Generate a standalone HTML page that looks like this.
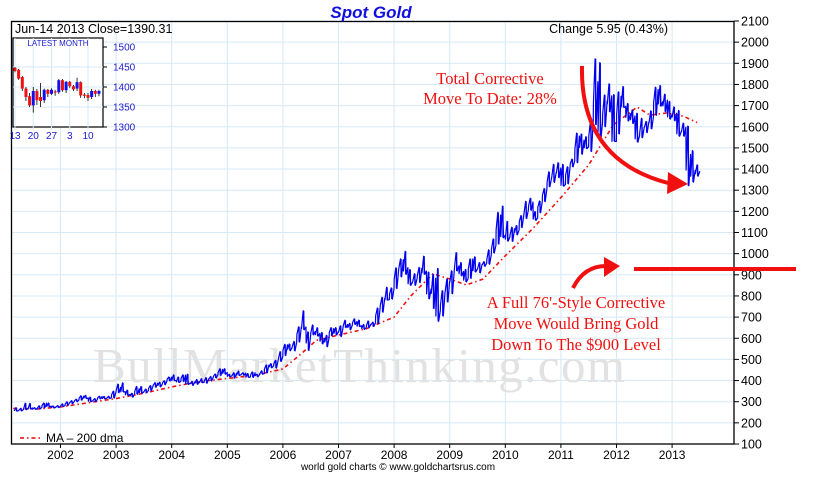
<!DOCTYPE html>
<html><head><meta charset="utf-8"><style>
html,body{margin:0;padding:0;background:#fff;}
svg{display:block;font-family:"Liberation Sans",sans-serif;}
</style></head><body>
<svg id="chart" width="817" height="477" viewBox="0 0 817 477" xmlns="http://www.w3.org/2000/svg">
<g id="grid"></g>
<text x="93" y="382" font-family="Liberation Serif, serif" font-size="49" fill="#e2e2e2" textLength="532">BullMarketThinking.com</text>
<g id="ma"></g>
<g id="price"></g>
<rect x="11.5" y="21.5" width="722.5" height="422.5" fill="none" stroke="#000" stroke-width="1.3"/>
<g id="yaxis"></g>
<g id="xaxis"></g>
<text x="371" y="18" text-anchor="middle" font-size="17" font-weight="bold" font-style="italic" fill="#1010e0">Spot Gold</text>
<text x="15" y="33" font-size="12.5" fill="#000">Jun-14  2013   Close=1390.31</text>
<text x="668" y="33" text-anchor="end" font-size="12.5" fill="#000">Change 5.95 (0.43%)</text>
<text x="398" y="470" text-anchor="middle" font-size="10" fill="#000">world gold charts © www.goldchartsrus.com</text>
<g>
<line x1="20" y1="438" x2="42" y2="438" stroke="#e00" stroke-width="1.5" stroke-dasharray="4,3,1.5,3"/>
<text x="46" y="442" font-size="12" fill="#000">MA – 200 dma</text>
</g>
<g id="inset"></g>
<g font-family="Liberation Serif, serif" fill="#f01010" font-size="16.5" text-anchor="middle">
<text x="490" y="84">Total Corrective</text>
<text x="490" y="104">Move To Date: 28%</text>
</g>
<path d="M582,66 Q580,160 668,183" fill="none" stroke="#f01010" stroke-width="4"/>
<polygon points="668,172 688,184 667,194" fill="#f01010"/>
<g font-family="Liberation Serif, serif" fill="#f01010" font-size="16.5" text-anchor="middle">
<text x="576" y="308">A Full 76'-Style Corrective</text>
<text x="576" y="329">Move Would Bring Gold</text>
<text x="576" y="350">Down To The $900 Level</text>
</g>
<path d="M573,288 Q584,266 606,266" fill="none" stroke="#f01010" stroke-width="4"/>
<polygon points="604,257 620,266 604,277" fill="#f01010"/>
<line x1="634" y1="269" x2="796" y2="269" stroke="#f01010" stroke-width="4"/>
</svg>
<script>
const closes=[258,263,267,270,266,273,293,279,275,277,
282,296,302,308,326,318,304,312,324,317,319,347,
368,347,334,337,361,346,354,375,388,384,398,416,
400,396,426,388,393,395,391,408,416,428,453,438,
422,435,427,435,417,437,429,433,473,470,496,513,
569,556,582,654,653,613,632,623,599,604,646,632,
650,665,662,679,659,650,666,673,743,789,783,834,
923,971,934,865,885,930,918,833,884,730,815,870,
919,942,916,883,975,927,949,955,996,1040,1182,1087,
1078,1118,1113,1180,1207,1244,1169,1247,1307,1357,1384,1405,
1327,1411,1439,1556,1536,1505,1628,1813,1620,1722,1746,1531,
1744,1696,1662,1651,1558,1598,1622,1648,1776,1719,1726,1657,
1664,1578,1598,1469,1394,1390];
const highs=[272,268,293,292,272,281,294,294,280,282,
290,300,305,312,328,330,322,315,326,325,326,350,
383,389,355,340,372,372,360,376,390,392,399,417,
427,417,427,430,396,405,409,414,419,431,456,456,
430,437,445,437,433,441,430,446,474,480,496,537,
571,573,585,654,730,630,663,650,627,614,650,650,
659,685,670,692,686,665,682,676,743,794,841,838,
933,975,1011,925,905,935,988,913,903,930,825,880,
919,1005,958,925,975,985,958,962,1018,1070,1195,1225,
1153,1125,1133,1180,1247,1262,1199,1249,1308,1387,1422,1430,
1422,1411,1447,1570,1566,1553,1628,1921,1903,1750,1803,1752,
1765,1790,1710,1680,1664,1640,1625,1675,1787,1795,1754,1720,
1694,1677,1617,1603,1487,1420];
const lows=[255,256,262,265,264,266,271,276,270,272,
277,282,290,300,307,315,300,300,313,313,315,317,
342,346,330,321,335,340,342,352,368,370,380,398,
400,391,395,382,377,382,390,387,398,412,424,430,
418,411,424,425,415,415,418,430,436,460,459,490,
518,541,540,582,640,542,616,610,573,560,611,615,
608,650,640,665,655,642,651,656,669,723,780,785,
835,890,902,850,850,863,902,786,740,680,705,771,
810,918,895,866,883,913,909,940,950,1003,1045,1075,
1059,1058,1089,1123,1166,1205,1157,1193,1246,1316,1337,1359,
1319,1330,1410,1430,1470,1496,1483,1610,1535,1600,1670,1531,
1566,1691,1627,1615,1527,1548,1572,1590,1654,1697,1671,1636,
1628,1555,1555,1321,1338,1366];
const firstYear=2001, firstMonth=2;
const maYears=[2001.15,2001.6,2002,2002.5,2003,2003.5,2004,2004.5,2005,2005.5,2006,2006.3,2006.6,2007,2007.5,2008,2008.3,2008.7,2009.0,2009.3,2009.6,2010,2010.5,2011.04,2011.5,2011.94,2012.37,2012.6,2012.9,2013.2,2013.45];
const maValues=[268,266,275,295,315,340,370,395,410,425,455,520,590,615,645,700,800,905,880,852,880,990,1120,1277,1420,1608,1693,1655,1665,1650,1620];
const yTicks=[100,200,300,400,500,600,700,800,900,1000,1100,1200,1300,1400,1500,1600,1700,1800,1900,2000,2100];
const xYears=[2002,2003,2004,2005,2006,2007,2008,2009,2010,2011,2012,2013];
const insetOpen=[1448,1443,1425,1396,1377,1354,1390,1375,1367,1393,1383,1389,1387,1417,1392,1413,1402,1396,1412,1381,1380,1375,1390,1383];
const insetClose=[1440,1421,1396,1375,1354,1390,1367,1365,1393,1383,1393,1386,1417,1392,1413,1402,1394,1412,1379,1378,1373,1390,1383,1390];
const insetHigh=[1450,1445,1428,1400,1385,1400,1395,1410,1396,1395,1397,1393,1420,1420,1415,1415,1405,1423,1414,1385,1385,1395,1393,1393];
const insetLow=[1437,1418,1390,1365,1350,1336,1355,1350,1360,1375,1380,1378,1383,1388,1385,1398,1390,1390,1373,1372,1365,1370,1375,1377];
const insetYTicks=[1300,1350,1400,1450,1500];
const insetXLabels=["13","20","27","3","10"];
const insetXLabelIdx=[0,5,10,15,20];

const NS="http://www.w3.org/2000/svg";
function mk(tag,attrs,parent){const e=document.createElementNS(NS,tag);for(const k in attrs)e.setAttribute(k,attrs[k]);parent.appendChild(e);return e;}
const xOf=y=>60.5+(y-2002)*55.6;
const yOf=v=>444-(v-100)*0.2115;
const L=11.5,R=734,T=21.5,B=444;
const grid=document.getElementById('grid');
yTicks.forEach(v=>{const l=mk('line',{x1:L,x2:R,y1:yOf(v),y2:yOf(v),stroke:'#d6eaf6','stroke-width':1},grid);

});
xYears.forEach(v=>{const l=mk('line',{x1:xOf(v),x2:xOf(v),y1:T,y2:B,stroke:'#d6eaf6','stroke-width':1},grid);

});
const yax=document.getElementById('yaxis');
yTicks.forEach(v=>{const t=mk('line',{x1:R,x2:R+5,y1:yOf(v),y2:yOf(v),stroke:'#000'},yax);


const tx=mk('text',{x:R+7,y:yOf(v)+4.5,'font-size':12.5,fill:'#000'},yax);tx.textContent=v;

});
const xax=document.getElementById('xaxis');
xYears.forEach(v=>{const t=mk('line',{x1:xOf(v),x2:xOf(v),y1:B,y2:B+4,stroke:'#000'},xax);


const tx=mk('text',{x:xOf(v),y:459,'font-size':12,fill:'#000','text-anchor':'middle'},xax);tx.textContent=v;

});
const ma=document.getElementById('ma');
const maPath=mk('polyline',{points:maYears.map((y,i)=>xOf(y)+','+yOf(maValues[i])).join(' '),fill:'none',stroke:'#ee1111','stroke-width':1.6,'stroke-dasharray':'4,3,1.5,3'},ma);


const pr=document.getElementById('price');
const tOf=i=>firstYear+(firstMonth+i+0.5)/12;
const pts=[];
closes.forEach((c,i)=>{
  const x0=xOf(tOf(i)-0.04), x1=xOf(tOf(i)+0.04);
  pts.push(x0+','+yOf((lows[i]+c)/2));pts.push(xOf(tOf(i)-0.01)+','+yOf(highs[i]));
  pts.push(xOf(tOf(i)+0.01)+','+yOf(lows[i]));pts.push(x1+','+yOf(c));
});
const pl=mk('polyline',{points:pts.join(' '),fill:'none',stroke:'#0000ee','stroke-width':1.2,'stroke-linejoin':'round'},pr);


closes.forEach((c,i)=>{const b=mk('line',{x1:xOf(tOf(i)),x2:xOf(tOf(i)),y1:yOf(highs[i]),y2:yOf(lows[i]),stroke:'#0000ee','stroke-width':1.3},pr);

});
const ins=document.getElementById('inset');
const iL=13,iR=103,iT=38,iB=127;
const iy=v=>127-(v-1300)*0.4;
const ix=i=>15+i*3.65;
const fr=mk('rect',{x:iL,y:iT,width:iR-iL,height:iB-iT,fill:'#fff',stroke:'#000','stroke-width':1.2},ins);


insetYTicks.forEach(v=>{if(v>1300&&v<1500){const g=mk('line',{x1:iL,x2:iR,y1:iy(v),y2:iy(v),stroke:'#d6eaf6'},ins);

}
const t=mk('line',{x1:iR,x2:iR+4,y1:iy(v),y2:iy(v),stroke:'#000'},ins);


const tx=mk('text',{x:iR+10,y:iy(v)+3.5,'font-size':10,fill:'#2020d0'},ins);tx.textContent=v;

});
insetXLabelIdx.forEach((idx,k)=>{const g=mk('line',{x1:ix(idx),x2:ix(idx),y1:iT,y2:iB+3,stroke:'#d6eaf6'},ins);


const tx=mk('text',{x:ix(idx),y:iB+12,'font-size':10,fill:'#2020d0','text-anchor':'middle'},ins);tx.textContent=insetXLabels[k];

});
const it=mk('text',{x:58,y:46,'font-size':8,fill:'#2020d0','text-anchor':'middle'},ins);it.textContent='LATEST MONTH';


insetOpen.forEach((o,i)=>{const c=insetClose[i];const col=c>=o?'#1010ee':'#ee1111';
const w=mk('line',{x1:ix(i),x2:ix(i),y1:iy(insetHigh[i]),y2:iy(insetLow[i]),stroke:'#000','stroke-width':0.8},ins);


const r=mk('rect',{x:ix(i)-1.5,y:iy(Math.max(o,c)),width:3,height:Math.max(1,Math.abs(o-c)*0.4),fill:col},ins);

});
</script>
</body></html>
